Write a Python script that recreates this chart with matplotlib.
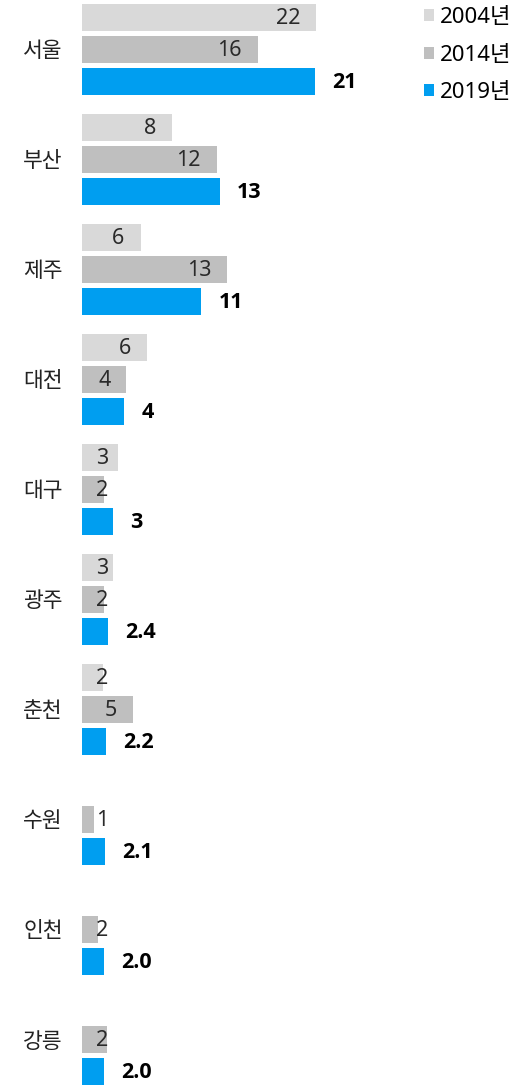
import matplotlib
matplotlib.use("Agg")
import matplotlib.pyplot as plt
from matplotlib.patches import Patch
import numpy as np

plt.rcParams['font.family'] = ['Noto Sans', 'Noto Sans CJK KR', 'DejaVu Sans']

cities = ["서울", "부산", "제주", "대전", "대구", "광주", "춘천", "수원", "인천", "강릉"]
series = ["2004년", "2014년", "2019년"]
colors = ["#d9d9d9", "#bfbfbf", "#009ef0"]

# bar lengths and the labels shown on them
v2004 = [21.6, 8.3, 5.4, 6.0, 3.3, 2.9, 1.9, None, None, None]
v2014 = [16.2, 12.4, 13.4, 4.1, 2.0, 2.0, 4.7, 1.1, 1.5, 2.3]
v2019 = [21.5, 12.7, 11.0, 3.9, 2.9, 2.4, 2.2, 2.1, 2.0, 2.0]
lab2004 = ["22", "8", "6", "6", "3", "3", "2", None, None, None]
lab2014 = ["16", "12", "13", "4", "2", "2", "5", "1", "2", "2"]
lab2019 = ["21", "13", "11", "4", "3", "2.4", "2.2", "2.1", "2.0", "2.0"]

W, H = 527, 1086
fig = plt.figure(figsize=(W / 100, H / 100), dpi=100)
ax_w = 318
ax = fig.add_axes([82 / W, 0, ax_w / W, 1])
px = 10.85  # pixels per unit
ax.set_xlim(0, ax_w / px)
ax.set_ylim((H - 49.5) / 110, -49.5 / 110)

y = np.arange(len(cities))
offs = [-32 / 110, 0, 32 / 110]
bh = 27 / 110
off_in = 16 / px
min_right = 26 / px
off_out = 17 / px

for vals, labs, col, o in zip([v2004, v2014], [lab2004, lab2014], colors[:2], offs[:2]):
    for i, (v, l) in enumerate(zip(vals, labs)):
        if v is None:
            continue
        ax.barh(y[i] + o, v, height=bh, color=col)
        ax.text(max(v - off_in, min_right), y[i] + o + 0.01, l, ha="right", va="center",
                fontsize=15.5, color="#2a2a2a")

for i, (v, l) in enumerate(zip(v2019, lab2019)):
    ax.barh(y[i] + offs[2], v, height=bh, color=colors[2])
    ax.text(v + off_out, y[i] + offs[2] + 0.01, l, ha="left", va="center",
            fontsize=15.5, fontweight="bold", color="black",
            family=["Open Sans", "Noto Sans CJK KR"])

ax.set_yticks(y)
ax.set_yticklabels(cities, fontsize=15.5, color="#222222")
ax.tick_params(axis="y", length=0, pad=14)
ax.set_xticks([])
for s in ax.spines.values():
    s.set_visible(False)

handles = [Patch(facecolor=c, label=s) for c, s in zip(colors, series)]
fig.legend(handles=handles, loc="upper left", bbox_to_anchor=(424 / W, 1 - 7 / H),
           frameon=False, fontsize=16, handlelength=0.45, handleheight=0.45,
           handletextpad=0.25, labelspacing=0.75, borderaxespad=0, borderpad=0)

fig.savefig("out.png", dpi=100)
